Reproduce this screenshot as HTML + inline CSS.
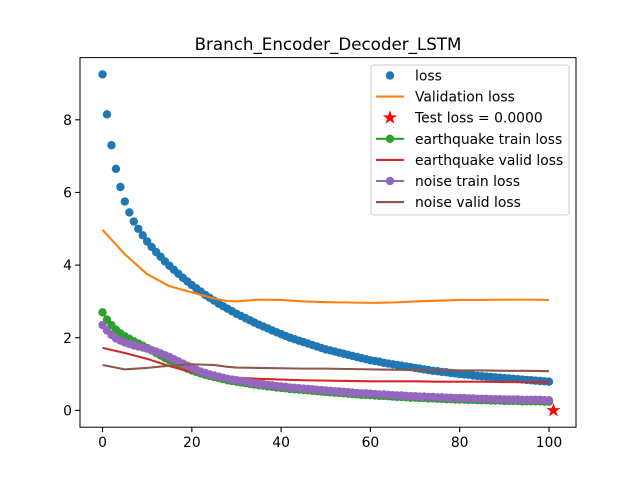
<!DOCTYPE html>
<html><head><meta charset="utf-8"><style>
html,body{margin:0;padding:0;background:#fff;}
svg{display:block;font-family:"DejaVu Sans","Liberation Sans",sans-serif;}
</style></head><body>
<svg id="chart" width="640" height="480" xmlns="http://www.w3.org/2000/svg">
<rect width="640" height="480" fill="#fff"/>
<text x="328" y="50" font-size="16.7" text-anchor="middle">Branch_Encoder_Decoder_LSTM</text>
<g id="plot"></g>
<rect x="80" y="57.6" width="496" height="369.6" fill="none" stroke="#000" stroke-width="1"/>
<g id="ticks"></g>
<g id="legend">
<rect x="371" y="65" width="198" height="150" rx="3" fill="#fff" fill-opacity="0.8" stroke="#ccc"/>
</g>
</svg>
<script>
const lossVals=[9.25,8.15,7.3,6.65,6.15,5.75,5.45,5.2,5.0,4.82,
4.65,4.5,4.36,4.23,4.1,3.98,3.87,3.76,3.65,3.55,
3.45,3.36,3.27,3.18,3.1,3.02,2.94,2.87,2.8,2.73,
2.66,2.6,2.54,2.48,2.42,2.36,2.31,2.26,2.2,2.15,
2.1,2.05,2.0,1.96,1.92,1.88,1.84,1.8,1.76,1.72,
1.68,1.65,1.62,1.59,1.56,1.53,1.5,1.47,1.44,1.41,
1.38,1.36,1.34,1.31,1.29,1.27,1.25,1.23,1.21,1.19,
1.17,1.15,1.13,1.11,1.09,1.08,1.06,1.05,1.03,1.02,
1.0,0.99,0.98,0.96,0.95,0.94,0.93,0.92,0.91,0.9,
0.89,0.88,0.87,0.86,0.85,0.84,0.83,0.82,0.81,0.8,0.79];
const eqTrain=[2.7,2.5,2.35,2.22,2.12,2.04,1.97,1.9,1.84,1.78,
1.72,1.65,1.58,1.51,1.44,1.38,1.32,1.26,1.2,1.15,
1.1,1.06,1.02,0.98,0.95,0.92,0.89,0.86,0.83,0.81,
0.79,0.77,0.75,0.73,0.71,0.69,0.68,0.66,0.65,0.63,
0.62,0.61,0.59,0.58,0.57,0.56,0.55,0.54,0.53,0.52,
0.51,0.5,0.49,0.48,0.47,0.46,0.45,0.44,0.43,0.43,
0.42,0.41,0.4,0.4,0.39,0.38,0.37,0.37,0.36,0.35,
0.35,0.34,0.34,0.33,0.33,0.32,0.32,0.31,0.31,0.3,
0.3,0.3,0.29,0.29,0.28,0.28,0.28,0.27,0.27,0.27,
0.26,0.26,0.26,0.26,0.25,0.25,0.25,0.25,0.25,0.24,0.24];
const noiseTrain=[2.35,2.2,2.08,1.98,1.92,1.87,1.83,1.79,1.76,1.73,
1.7,1.66,1.62,1.57,1.52,1.47,1.41,1.35,1.29,1.23,
1.17,1.12,1.07,1.03,0.99,0.96,0.93,0.9,0.87,0.85,
0.83,0.81,0.79,0.77,0.75,0.73,0.72,0.7,0.69,0.67,
0.66,0.65,0.63,0.62,0.61,0.6,0.59,0.58,0.57,0.56,
0.55,0.54,0.53,0.52,0.51,0.5,0.49,0.48,0.47,0.47,
0.46,0.45,0.44,0.44,0.43,0.42,0.41,0.41,0.4,0.39,
0.39,0.38,0.38,0.37,0.37,0.36,0.36,0.35,0.35,0.34,
0.34,0.34,0.33,0.33,0.32,0.32,0.32,0.31,0.31,0.31,
0.3,0.3,0.3,0.3,0.29,0.29,0.29,0.29,0.29,0.28,0.28];
const lineEpochs=[0,5,10,15,20,25,28,30,35,40,45,50,55,60,65,70,75,80,85,90,95,100];
const valLoss=[4.97,4.3,3.75,3.42,3.25,3.08,3.01,3.0,3.05,3.04,3.0,2.98,2.97,2.96,2.97,3.0,3.02,3.04,3.04,3.05,3.05,3.04];
const eqValid=[1.72,1.58,1.42,1.22,1.05,0.97,0.93,0.9,0.87,0.85,0.83,0.82,0.81,0.8,0.8,0.8,0.79,0.79,0.79,0.78,0.78,0.78];
const noiseValid=[1.25,1.13,1.17,1.23,1.27,1.25,1.2,1.18,1.17,1.16,1.15,1.15,1.14,1.13,1.12,1.11,1.11,1.1,1.1,1.09,1.09,1.08];
const testX=[101], testY=[0.0];
const xTicks=[0,20,40,60,80,100];
const yTicks=[0,2,4,6,8];

const NS="http://www.w3.org/2000/svg";
const L=80,R=576,T=57.6,B=427.2;
const xmin=-5.05,xmax=106.05,ymin=-0.4625,ymax=9.7125;
const X=v=>L+(v-xmin)/(xmax-xmin)*(R-L);
const Y=v=>B-(v-ymin)/(ymax-ymin)*(B-T);
const plot=document.getElementById('plot');
function mk(tag,attrs,parent){const e=document.createElementNS(NS,tag);for(const k in attrs)e.setAttribute(k,attrs[k]);(parent||plot).appendChild(e);return e;}
function line(xs,ys,color,name){
  const p=mk('polyline',{points:xs.map((x,i)=>X(x)+','+Y(ys[i])).join(' '),fill:'none',stroke:color,'stroke-width':2.08,'stroke-linejoin':'round'});
  
  
}
function dots(ys,color,name,withLine){
  const g=mk('g',{});
  
  
  const xs=ys.map((_,i)=>i);
  if(withLine) mk('polyline',{points:xs.map((x,i)=>X(x)+','+Y(ys[i])).join(' '),fill:'none',stroke:color,'stroke-width':2.08},g);
  ys.forEach((v,i)=>{const c=mk('circle',{cx:X(i),cy:Y(v),r:4.2,fill:color},g);
    
    });
}
function starPts(cx,cy,r){let p=[];for(let i=0;i<10;i++){const a=-Math.PI/2+i*Math.PI/5;const rr=i%2?r*0.382:r;p.push((cx+rr*Math.cos(a)).toFixed(2)+','+(cy+rr*Math.sin(a)).toFixed(2));}return p.join(' ');}

dots(lossVals,'#1f77b4','loss-series',false);
line(lineEpochs,valLoss,'#ff7f0e','validation-loss-line');
testX.forEach((x,i)=>{const s=mk('polygon',{points:starPts(X(x),Y(testY[i]),7.5),fill:'#ff0000'});
  
  });
dots(eqTrain,'#2ca02c','earthquake-train-loss',true);
line(lineEpochs,eqValid,'#d62728','earthquake-valid-loss-line');
dots(noiseTrain,'#9467bd','noise-train-loss',true);
line(lineEpochs,noiseValid,'#8c564b','noise-valid-loss-line');

const tk=document.getElementById('ticks');
xTicks.forEach(v=>{mk('line',{x1:X(v),x2:X(v),y1:B,y2:B+4.9,stroke:'#000','stroke-width':1.1},tk);
  const t=mk('text',{x:X(v),y:B+20,'font-size':13.9,'text-anchor':'middle'},tk);t.textContent=v;
  
  });
yTicks.forEach(v=>{mk('line',{x1:L-4.9,x2:L,y1:Y(v),y2:Y(v),stroke:'#000','stroke-width':1.1},tk);
  const t=mk('text',{x:L-8,y:Y(v)+5,'font-size':13.9,'text-anchor':'end'},tk);t.textContent=v;
  
  });

const lg=document.getElementById('legend');
const entries=[['loss','#1f77b4','dot'],['Validation loss','#ff7f0e','line'],['Test loss = 0.0000','#ff0000','star'],['earthquake train loss','#2ca02c','both'],['earthquake valid loss','#d62728','line'],['noise train loss','#9467bd','both'],['noise valid loss','#8c564b','line']];
entries.forEach((e,i)=>{const y=75.5+i*21.1;
  const g=mk('g',{},lg);
  
  
  if(e[2]==='line'||e[2]==='both') mk('line',{x1:376,x2:404,y1:y,y2:y,stroke:e[1],'stroke-width':2.08},g);
  if(e[2]==='dot'||e[2]==='both') mk('circle',{cx:390,cy:y,r:4.2,fill:e[1]},g);
  if(e[2]==='star') mk('polygon',{points:starPts(390,y,7.5),fill:e[1]},g);
  const t=mk('text',{x:415,y:y+5,'font-size':13.9},g);t.textContent=e[0];});
</script>
</body></html>
